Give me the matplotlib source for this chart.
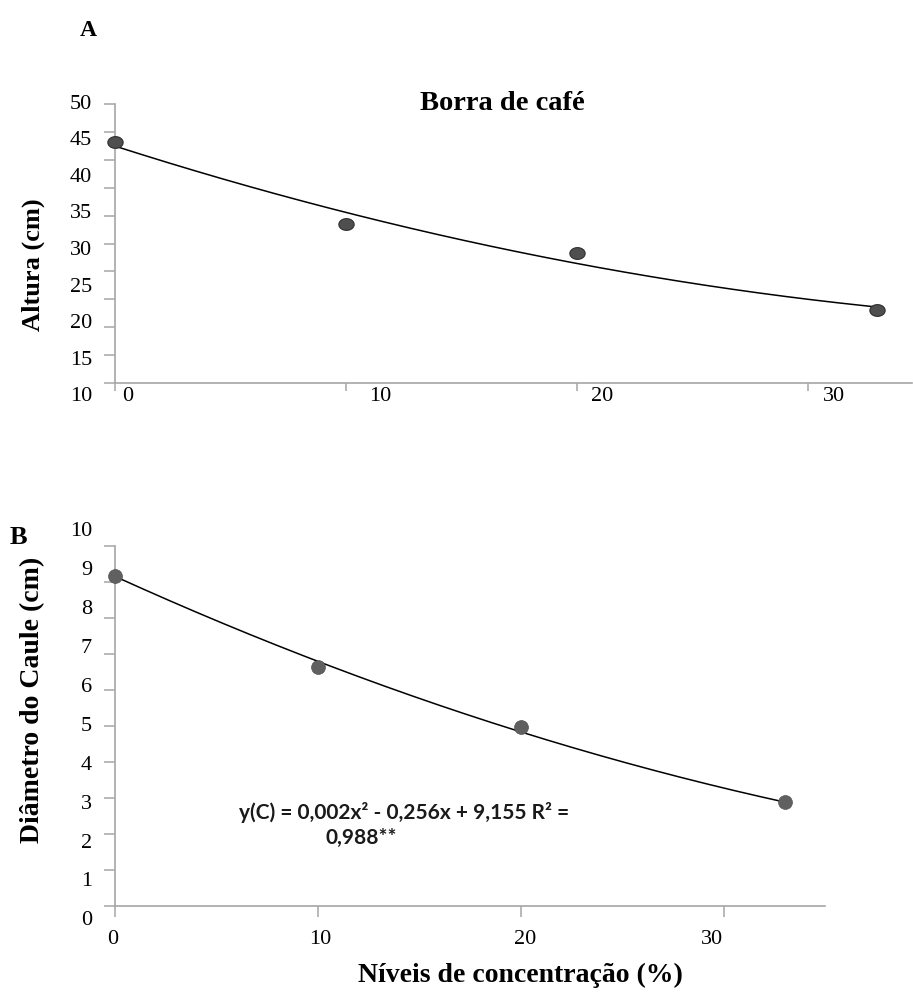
import numpy as np
import matplotlib
matplotlib.use("Agg")
import matplotlib.pyplot as plt
from matplotlib.path import Path
import matplotlib.transforms as mtrans

# data
conc = [0, 10, 20, 33]
altura = [44.55, 32.8, 28.6, 20.5]
diametro = [9.17, 6.64, 4.97, 2.89]

# regression printed on panel B
coef_b = [0.002, -0.256, 9.155]

ytick_a = [50, 45, 40, 35, 30, 25, 20, 15, 10]
ytick_b = [10, 9, 8, 7, 6, 5, 4, 3, 2, 1, 0]
xtick = [0, 10, 20, 30]

SERIF = "Liberation Serif"
AXC = "#a6a6a6"

plt.rcParams["font.family"] = SERIF

fig = plt.figure(figsize=(9.13, 9.96), dpi=100)

# ellipse marker for panel A
t = np.linspace(0, 2 * np.pi, 60)
ell = Path(np.column_stack([1.3 * np.cos(t), np.sin(t)]), closed=True)


def style_axes(ax):
	for s in ["top", "right"]:
		ax.spines[s].set_visible(False)
	for s in ["left", "bottom"]:
		ax.spines[s].set_color(AXC)
		ax.spines[s].set_linewidth(1.2)
	ax.tick_params(axis="y", direction="out", length=8, width=1.1, color=AXC,
				   labelleft=False)
	ax.tick_params(axis="x", direction="out", length=6, width=1.1, color=AXC,
				   labelbottom=False)
	ax.set_facecolor("none")


# ---------------- panel A
axA = fig.add_axes([0.126, 0.6155, 0.873, 0.280])
style_axes(axA)
axA.set_xlim(0, 34.5)
axA.set_ylim(10, 50)
axA.set_yticks(np.arange(10, 51, 4))
axA.set_xticks(xtick)

fit = np.polyfit(conc, altura, 2)
xs = np.linspace(0, 33, 200)
axA.plot(xs, np.polyval(fit, xs), color="black", lw=1.1, zorder=2)
axA.plot(conc, altura, ls="none", marker=ell, ms=11, mfc="#4f4f4f",
		 mec="#2e2e2e", mew=0.8, zorder=3, clip_on=False)

trA = mtrans.blended_transform_factory(axA.transAxes, axA.transData)
for v in ytick_a:
	axA.text(-0.029, 50 - 1.05 * (50 - v), str(v), transform=trA, ha="right",
			 va="center", fontsize=16)
trAx = mtrans.blended_transform_factory(axA.transData, axA.transAxes)
for v, xp in zip(xtick, [0.56, 11.47, 21.1, 31.1]):
	axA.text(xp, -0.05, str(v), transform=trAx, ha="center", va="center",
			 fontsize=16)

fig.text(502 / 913, 1 - 103 / 996, "Borra de café", ha="center",
		 va="center", fontsize=20.5, fontweight="bold")
fig.text(33 / 913, 1 - 265 / 996, "Altura (cm)", rotation=90, ha="center",
		 va="center", fontsize=19, fontweight="bold")
fig.text(88 / 913, 1 - 30 / 996, "A", ha="center", va="center", fontsize=17,
		 fontweight="bold")

# ---------------- panel B
axB = fig.add_axes([0.126, 0.0904, 0.778, 0.3614])
style_axes(axB)
axB.tick_params(axis="x", length=8)
axB.set_xlim(0, 35)
axB.set_ylim(0, 10)
axB.set_yticks(np.arange(0, 11, 1))
axB.set_xticks(xtick)

xs = np.linspace(0, 33, 200)
axB.plot(xs, np.polyval(coef_b, xs), color="black", lw=1.1, zorder=2)
axB.plot(conc, diametro, ls="none", marker="o", ms=10, mfc="#606060",
		 mec="#555555", mew=0.5, zorder=3, clip_on=False)

trB = mtrans.blended_transform_factory(axB.transAxes, axB.transData)
for v in ytick_b:
	axB.text(-0.0324, 1.083 * v - 0.417, str(v), transform=trB, ha="right",
			 va="center", fontsize=16)
trBx = mtrans.blended_transform_factory(axB.transData, axB.transAxes)
for v, xp in zip(xtick, [-0.1, 10.1, 20.2, 29.4]):
	axB.text(xp, -0.094, str(v), transform=trBx, ha="center", va="center",
			 fontsize=16)

fig.text(404 / 913, 1 - 812 / 996, "y(C) = 0,002x² - 0,256x + 9,155 R² =",
		 ha="center", va="center", fontsize=15, fontweight="bold",
		 family=["Lato", "DejaVu Sans"], color="#1a1a1a")
fig.text(361 / 913, 1 - 838 / 996, "0,988**", ha="center", va="center",
		 fontsize=15, fontweight="bold", family=["Lato", "DejaVu Sans"],
		 color="#1a1a1a")

fig.text(18 / 913, 1 - 537 / 996, "B", ha="center", va="center", fontsize=19,
		 fontweight="bold")
fig.text(33 / 913, 1 - 700 / 996, "Diâmetro do Caule (cm)", rotation=90,
		 ha="center", va="center", fontsize=20, fontweight="bold")
fig.text(520 / 913, 1 - 975 / 996, "Níveis de concentração (%)", ha="center",
		 va="center", fontsize=20, fontweight="bold")

fig.savefig("out.png", dpi=100, facecolor="white")
